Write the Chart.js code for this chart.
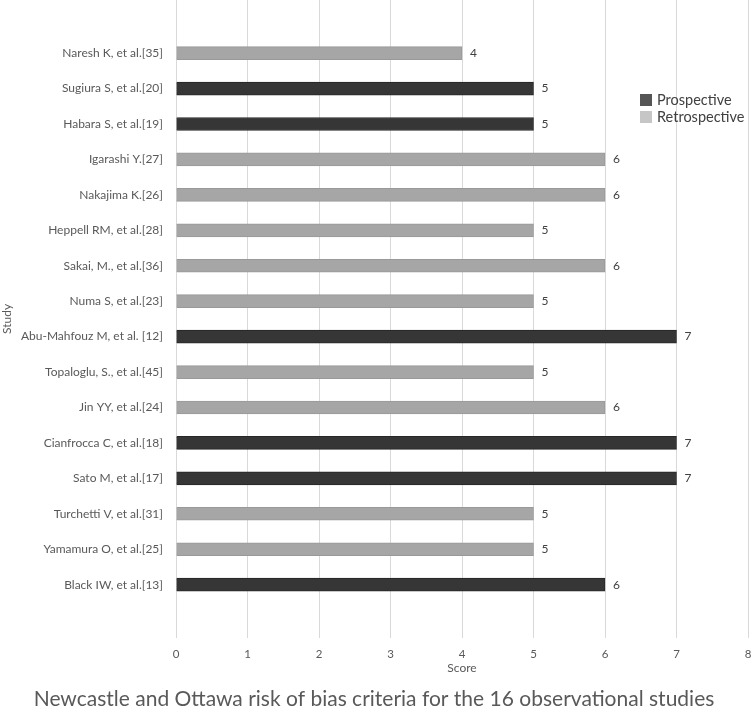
<!DOCTYPE html>
<html>
<head>
<meta charset="utf-8">
<script src="https://cdn.jsdelivr.net/npm/chart.js@4.4.0/dist/chart.umd.min.js"></script>
<style>
  body { margin: 0; background: #fff; }
  #wrap { position: relative; width: 753px; height: 715px; }
  #legend { position: absolute; left: 640px; top: 91px; font-family: Lato, sans-serif; font-size: 14.5px; color: #404040; line-height: 17px; }
  #legend div { display: flex; align-items: center; }
  #legend span.sw { display: inline-block; width: 12px; height: 12px; margin-right: 5px; }
</style>
</head>
<body>
<div id="wrap">
  <canvas id="myChart" width="753" height="715"></canvas>
  <div id="legend"></div>
</div>
<script>
const studies = [
  'Naresh K, et al.[35]', 'Sugiura S, et al.[20]', 'Habara S, et al.[19]', 'Igarashi Y.[27]',
  'Nakajima K.[26]', 'Heppell RM, et al.[28]', 'Sakai, M., et al.[36]', 'Numa S, et al.[23]',
  'Abu-Mahfouz M, et al. [12]', 'Topaloglu, S., et al.[45]', 'Jin YY, et al.[24]', 'Cianfrocca C, et al.[18]',
  'Sato M, et al.[17]', 'Turchetti V, et al.[31]', 'Yamamura O, et al.[25]', 'Black IW, et al.[13]'
];
const scores = [4, 5, 5, 6, 6, 5, 6, 5, 7, 5, 6, 7, 7, 5, 5, 6];
const design = ['R', 'P', 'P', 'R', 'R', 'R', 'R', 'R', 'P', 'R', 'R', 'P', 'P', 'R', 'R', 'P'];
const xTicks = [0, 1, 2, 3, 4, 5, 6, 7, 8];

// one empty band above and below, like the original plot area
const labels = [''].concat(studies, ['']);
const pad = v => [null].concat(v, [null]);
const prospective = pad(scores.map((s, i) => design[i] === 'P' ? s : null));
const retrospective = pad(scores.map((s, i) => design[i] === 'R' ? s : null));

const font = 'Lato, sans-serif';

const valueLabels = {
  id: 'valueLabels',
  afterDatasetsDraw(chart) {
    const c = chart.ctx;
    c.save();
    c.font = '12px ' + font;
    c.fillStyle = '#404040';
    c.textBaseline = 'middle';
    chart.data.datasets.forEach((ds, di) => {
      chart.getDatasetMeta(di).data.forEach((bar, i) => {
        if (ds.data[i] == null) return;
        c.fillText(ds.data[i], bar.x + 8, bar.y);
      });
    });
    c.restore();
  }
};

const ctx = document.getElementById('myChart');

new Chart(ctx, {
  type: 'bar',
  data: {
    labels: labels,
    datasets: [{
      label: 'Prospective',
      data: prospective,
      backgroundColor: '#363636',
      borderColor: '#262626',
      borderWidth: 1,
      barThickness: 13,
      grouped: false
    }, {
      label: 'Retrospective',
      data: retrospective,
      backgroundColor: '#a6a6a6',
      borderColor: '#999999',
      borderWidth: 1,
      barThickness: 13,
      grouped: false
    }]
  },
  options: {
    indexAxis: 'y',
    responsive: false,
    animation: false,
    layout: { autoPadding: false, padding: { right: 5 } },
    scales: {
      x: {
        min: 0,
        max: 8,
        afterBuildTicks: s => { s.ticks = xTicks.map(v => ({ value: v })); },
        grid: { color: '#d9d9d9', drawTicks: false },
        border: { display: false },
        ticks: { color: '#595959', font: { family: font, size: 11.5 }, padding: 10 },
        title: { display: true, text: 'Score', color: '#595959', font: { family: font, size: 12 }, padding: { top: 0, bottom: 6 } },
        afterFit: s => { s.height = 44; s.paddingLeft = 0; s.paddingRight = 0; }
      },
      y: {
        grid: { display: false, drawTicks: false },
        border: { display: false },
        ticks: { color: '#595959', font: { family: font, size: 12 }, padding: 13, autoSkip: false },
        title: { display: true, text: 'Study', color: '#595959', font: { family: font, size: 12 }, padding: 0 },
        afterFit: s => { s.width = 176; s.paddingTop = 0; s.paddingBottom = 0; }
      }
    },
    plugins: {
      legend: { display: false },
      tooltip: { enabled: false },
      title: {
        display: true,
        position: 'bottom',
        text: 'Newcastle and Ottawa risk of bias criteria for the 16 observational studies',
        color: '#595959',
        font: { family: font, size: 21, weight: 'normal' },
        padding: { top: 5, bottom: 3 }
      }
    }
  },
  plugins: [valueLabels]
});

const legendItems = [['Prospective', '#555555'], ['Retrospective', '#c6c6c6']];
document.getElementById('legend').innerHTML = legendItems
  .map(([t, c]) => '<div><span class="sw" style="background:' + c + '"></span>' + t + '</div>')
  .join('');
</script>
</body>
</html>
